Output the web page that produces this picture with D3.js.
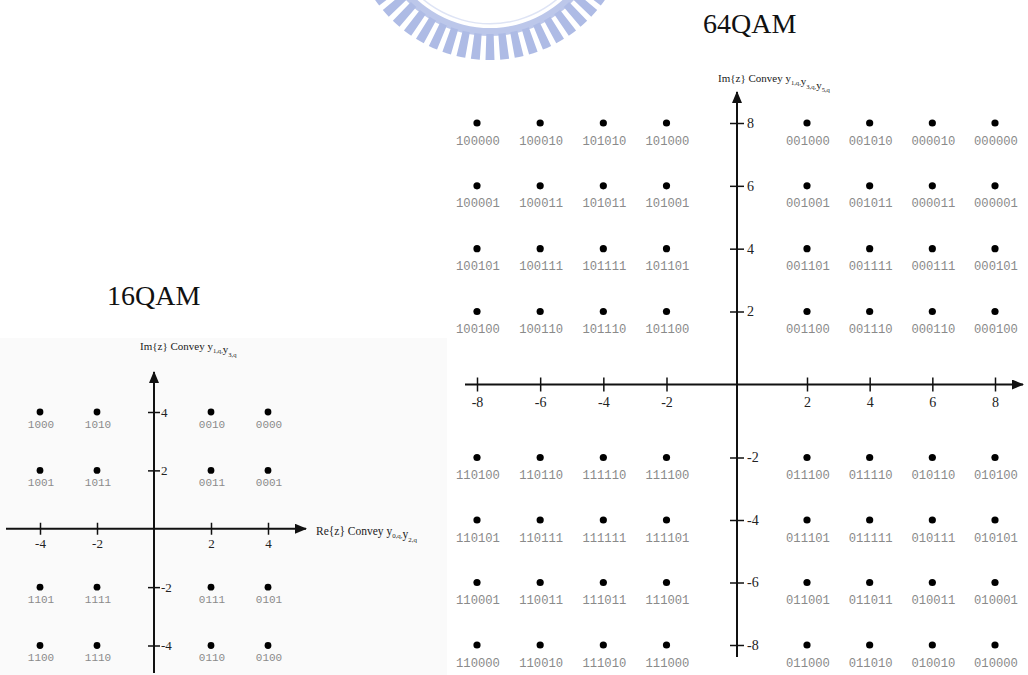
<!DOCTYPE html>
<html>
<head>
<meta charset="utf-8">
<script src="https://cdn.jsdelivr.net/npm/d3@7"></script>
<style>
  body { margin: 0; background: #fff; }
  svg { display: block; }
</style>
</head>
<body>
<svg width="1028" height="675"></svg>
<script>
// 16QAM constellation
var qam16Re = [-4, -2, 2, 4];
var qam16Im = [4, 2, -2, -4];
var qam16Ticks = [-4, -2, 2, 4];
var qam16Labels = [
    ["1000", "1010", "0010", "0000"],
    ["1001", "1011", "0011", "0001"],
    ["1101", "1111", "0111", "0101"],
    ["1100", "1110", "0110", "0100"]
];

// 64QAM constellation
var qam64Re = [-8, -6, -4, -2, 2, 4, 6, 8];
var qam64Im = [8, 6, 4, 2, -2, -4, -6, -8];
var qam64Ticks = [-8, -6, -4, -2, 2, 4, 6, 8];
var qam64Labels = [
    ["100000", "100010", "101010", "101000", "001000", "001010", "000010", "000000"],
    ["100001", "100011", "101011", "101001", "001001", "001011", "000011", "000001"],
    ["100101", "100111", "101111", "101101", "001101", "001111", "000111", "000101"],
    ["100100", "100110", "101110", "101100", "001100", "001110", "000110", "000100"],
    ["110100", "110110", "111110", "111100", "011100", "011110", "010110", "010100"],
    ["110101", "110111", "111111", "111101", "011101", "011111", "010111", "010101"],
    ["110001", "110011", "111011", "111001", "011001", "011011", "010011", "010001"],
    ["110000", "110010", "111010", "111000", "011000", "011010", "010010", "010000"]
];

var serif = "'Liberation Serif', 'Times New Roman', serif";
var mono = "'Liberation Mono', 'Courier New', monospace";

var svg = d3.select("svg");

svg.append("defs")
    .append("marker")
    .attr("id", "arrow")
    .attr("markerUnits", "userSpaceOnUse")
    .attr("viewBox", "0 0 12 10")
    .attr("refX", 11)
    .attr("refY", 5)
    .attr("markerWidth", 13)
    .attr("markerHeight", 10)
    .attr("orient", "auto")
    .append("path")
    .attr("d", "M0,0 L12,5 L0,10 Z")
    .attr("fill", "#111");

// watermark (faded logo at top)
function drawWatermark() {
    let g = svg.append("g")
        .attr("transform", "translate(490,-80)")
        .attr("opacity", 0.75);

    g.append("path")
        .attr("d", d3.arc().innerRadius(103).outerRadius(104.5)
            .startAngle(Math.PI - 1.1).endAngle(Math.PI + 1.1)())
        .attr("fill", "#d3dbf2");

    g.append("path")
        .attr("d", d3.arc().innerRadius(108).outerRadius(116)
            .startAngle(Math.PI - 1.0).endAngle(Math.PI + 1.0)())
        .attr("fill", "#a6b5e4");

    let teeth = d3.range(-9, 10);
    g.selectAll(".tooth")
        .data(teeth)
        .enter()
        .append("path")
        .attr("class", "tooth")
        .attr("d", function(i) {
            let a = Math.PI + i * 0.105;
            return d3.arc().innerRadius(114).outerRadius(140)
                .startAngle(a - 0.032).endAngle(a + 0.032)();
        })
        .attr("fill", "#93a5dd");
}

function axisTitle(sel, x, y, size, head, subs) {
    let t = sel.append("text")
        .attr("x", x)
        .attr("y", y)
        .attr("font-family", serif)
        .attr("font-size", size)
        .attr("fill", "#222");
    t.append("tspan").text(head);
    subs.forEach(function(s, i) {
        t.append("tspan").attr("dy", 0).text("y");
        t.append("tspan")
            .attr("dy", size * 0.3)
            .attr("font-size", size * 0.6)
            .text(s + (i < subs.length - 1 ? "," : ""));
        t.append("tspan").attr("dy", -size * 0.3).text("");
    });
}

function drawPanel(p) {
    let g = svg.append("g");

    // horizontal axis
    g.append("line")
        .attr("x1", p.xLine[0]).attr("x2", p.xLine[1])
        .attr("y1", p.y(0)).attr("y2", p.y(0))
        .attr("stroke", "#111").attr("stroke-width", 2)
        .attr("marker-end", "url(#arrow)");

    // vertical axis
    g.append("line")
        .attr("x1", p.x(0)).attr("x2", p.x(0))
        .attr("y1", p.yLine[0]).attr("y2", p.yLine[1])
        .attr("stroke", "#111").attr("stroke-width", 2)
        .attr("marker-end", "url(#arrow)");

    let fmt = function(d) { return String(d); };

    let xAxis = g.append("g")
        .attr("transform", "translate(0," + p.y(0) + ")")
        .call(d3.axisBottom(p.x).tickValues(p.ticks).tickSize(p.tick).tickPadding(p.pad).tickFormat(fmt));
    xAxis.select(".domain").remove();
    xAxis.selectAll("line").attr("y1", -p.tick).attr("stroke", "#111").attr("stroke-width", 1.5);
    xAxis.selectAll("text")
        .attr("font-family", serif).attr("font-size", p.tickFont).attr("fill", "#222");

    let yAxis = g.append("g")
        .attr("transform", "translate(" + p.x(0) + ",0)")
        .call(d3.axisRight(p.y).tickValues(p.ticks).tickSize(p.tick).tickPadding(p.pad - 3).tickFormat(fmt));
    yAxis.select(".domain").remove();
    yAxis.selectAll("line").attr("x1", -p.tick).attr("stroke", "#111").attr("stroke-width", 1.5);
    yAxis.selectAll("text")
        .attr("font-family", serif).attr("font-size", p.tickFont).attr("fill", "#222");

    // constellation points
    let points = [];
    p.im.forEach(function(im, r) {
        p.re.forEach(function(re, c) {
            points.push({ re: re, im: im, label: p.labels[r][c] });
        });
    });

    g.selectAll(".pt")
        .data(points)
        .enter()
        .append("circle")
        .attr("cx", function(d) { return p.x(d.re); })
        .attr("cy", function(d) { return p.y(d.im); })
        .attr("r", p.r)
        .attr("fill", "#000");

    g.selectAll(".bits")
        .data(points)
        .enter()
        .append("text")
        .attr("x", function(d) { return p.x(d.re) + 1; })
        .attr("y", function(d) { return p.y(d.im) + p.labelDy; })
        .attr("text-anchor", "middle")
        .attr("font-family", mono)
        .attr("font-size", p.labelFont)
        .attr("fill", "#8a8a8a")
        .text(function(d) { return d.label; });

    return g;
}

drawWatermark();

// faint backdrop of the 16QAM figure
svg.append("rect")
    .attr("x", 0).attr("y", 338)
    .attr("width", 447).attr("height", 337)
    .attr("fill", "#fafafa");

var x16 = d3.scaleLinear().domain([-4, 4]).range([40, 268]);
var y16 = d3.scaleLinear().domain([-4, 4]).range([645.5, 412]);

var p16 = drawPanel({
    x: x16, y: y16, re: qam16Re, im: qam16Im, labels: qam16Labels, ticks: qam16Ticks,
    xLine: [6, 306], yLine: [673, 372],
    tick: 6, pad: 4, tickFont: 13, r: 3.4, labelDy: 15.5, labelFont: 11
});

axisTitle(p16, 140, 350, 11, "Im{z}  Convey ", ["1,q", "3,q"]);
axisTitle(p16, 316, 535, 11.5, "Re{z}  Convey ", ["0,q", "2,q"]);

var x64 = d3.scaleLinear().domain([-8, -2, 0, 2, 8]).range([477, 666.5, 737, 807, 995]);
var y64 = d3.scaleLinear().domain([-8, -2, 0, 2, 8]).range([645, 457.5, 384.5, 311.5, 123]);

var p64 = drawPanel({
    x: x64, y: y64, re: qam64Re, im: qam64Im, labels: qam64Labels, ticks: qam64Ticks,
    xLine: [465, 1023], yLine: [657, 92],
    tick: 7, pad: 6, tickFont: 14, r: 3.6, labelDy: 21.5, labelFont: 12.2
});

axisTitle(p64, 718, 82, 11, "Im{z}  Convey ", ["1,q", "3,q", "5,q"]);

// titles
svg.append("text")
    .attr("x", 107).attr("y", 305)
    .attr("font-family", serif).attr("font-size", 28).attr("fill", "#111")
    .text("16QAM");

svg.append("text")
    .attr("x", 703).attr("y", 33)
    .attr("font-family", serif).attr("font-size", 28).attr("fill", "#111")
    .text("64QAM");
</script>
</body>
</html>
